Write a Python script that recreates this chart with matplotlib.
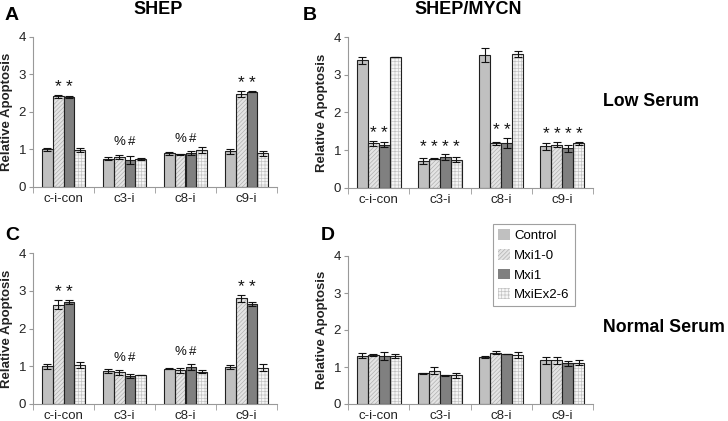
import matplotlib
matplotlib.use("Agg")
import matplotlib.pyplot as plt
import numpy as np
from matplotlib.patches import Patch

plt.rcParams['font.family'] = ['Liberation Sans', 'DejaVu Sans']
plt.rcParams['hatch.linewidth'] = 0.5

categories = ["c-i-con", "c3-i", "c8-i", "c9-i"]
series = ["Control", "Mxi1-0", "Mxi1", "MxiEx2-6"]

# values [category][series]
A_vals = [[1.00, 2.42, 2.40, 0.98], [0.75, 0.80, 0.72, 0.75], [0.90, 0.87, 0.90, 0.99], [0.95, 2.48, 2.54, 0.90]]
A_err = [[0.05, 0.04, 0.03, 0.05], [0.04, 0.06, 0.10, 0.03], [0.04, 0.02, 0.06, 0.08], [0.07, 0.08, 0.02, 0.07]]
A_marks = [["", "*", "*", ""], ["", "%", "#", ""], ["", "%", "#", ""], ["", "*", "*", ""]]

B_vals = [[3.38, 1.18, 1.15, 3.47], [0.72, 0.78, 0.82, 0.75], [3.52, 1.18, 1.20, 3.55], [1.10, 1.15, 1.05, 1.18]]
B_err = [[0.10, 0.07, 0.07, 0.01], [0.08, 0.01, 0.07, 0.06], [0.18, 0.05, 0.13, 0.07], [0.09, 0.07, 0.10, 0.03]]
B_marks = [["", "*", "*", ""], ["*", "*", "*", "*"], ["", "*", "*", ""], ["*", "*", "*", "*"]]

C_vals = [[1.00, 2.63, 2.70, 1.03], [0.87, 0.84, 0.74, 0.77], [0.94, 0.89, 0.98, 0.86], [0.98, 2.80, 2.65, 0.96]]
C_err = [[0.06, 0.12, 0.05, 0.07], [0.06, 0.06, 0.05, 0.01], [0.01, 0.07, 0.08, 0.04], [0.05, 0.10, 0.06, 0.09]]
C_marks = A_marks

D_vals = [[1.30, 1.32, 1.30, 1.30], [0.83, 0.90, 0.78, 0.78], [1.28, 1.39, 1.36, 1.32], [1.18, 1.18, 1.10, 1.12]]
D_err = [[0.07, 0.03, 0.10, 0.05], [0.02, 0.10, 0.01, 0.07], [0.03, 0.04, 0.00, 0.08], [0.09, 0.10, 0.06, 0.07]]
D_marks = [["", "", "", ""]] * 4

face = ["#c0c0c0", "#e4e4e4", "#808080", "#f6f6f6"]
hatches = [None, "////////", None, "+++++"]
hatch_col = [None, "#b0b0b0", None, "#c4c4c4"]

fig = plt.figure(figsize=(7.28, 4.21), dpi=100)

W = 728.0
H = 421.0
def rect(x0, x1, ytop, ybot):
    return [x0 / W, 1 - ybot / H, (x1 - x0) / W, (ybot - ytop) / H]

panels = [
    ("A", rect(33, 277, 37, 187), A_vals, A_err, A_marks),
    ("B", rect(348, 593, 37, 188), B_vals, B_err, B_marks),
    ("C", rect(33, 277, 253, 404), C_vals, C_err, C_marks),
    ("D", rect(348, 593, 256, 404), D_vals, D_err, D_marks),
]

bw = 0.18
for name, r, vals, errs, marks in panels:
    ax = fig.add_axes(r)
    x = np.arange(len(categories))
    for j in range(len(series)):
        xs = x + (j - 1.5) * bw
        h = [vals[i][j] for i in range(len(categories))]
        e = [errs[i][j] for i in range(len(categories))]
        if hatches[j]:
            ax.bar(xs, h, bw, color=face[j], edgecolor=hatch_col[j], hatch=hatches[j], linewidth=0, zorder=2)
            ax.bar(xs, h, bw, color="none", edgecolor="#202020", linewidth=0.8, zorder=3)
        else:
            ax.bar(xs, h, bw, color=face[j], edgecolor="#202020", linewidth=0.8, zorder=3)
        ax.errorbar(xs, h, yerr=e, fmt="none", ecolor="#111111", elinewidth=0.8, capsize=3, capthick=0.8, zorder=4)
    # significance marks at a common height within each group
    for i in range(len(categories)):
        idx = [j for j in range(len(series)) if marks[i][j]]
        if not idx:
            continue
        top = max(vals[i][j] + errs[i][j] for j in idx)
        for j in idx:
            m = marks[i][j]
            xpos = i + (j - 1.5) * bw
            if m == "*":
                ax.text(xpos, top + 0.02, m, ha="center", va="bottom", fontsize=12.5, color="#111111")
            else:
                ax.text(xpos + (0.03 if m == "#" else 0), top + 0.17, m, ha="center", va="bottom",
                        fontsize=9.5, color="#111111")
    ax.set_xlim(-0.5, 3.5)
    ax.set_ylim(0, 4)
    ax.set_yticks([0, 1, 2, 3, 4])
    ax.set_xticks(x)
    ax.set_xticklabels(categories)
    ax.set_xticks(np.arange(-0.5, 3.6, 1), minor=True)
    ax.tick_params(axis="x", which="major", length=0, labelsize=9.5, pad=4.5, colors="#222222")
    ax.tick_params(axis="x", which="minor", length=4, color="#999999", direction="out")
    ax.tick_params(axis="y", length=3, color="#999999", labelsize=9.5, labelcolor="#222222", pad=2)
    for s in ["top", "right"]:
        ax.spines[s].set_visible(False)
    for s in ["left", "bottom"]:
        ax.spines[s].set_color("#999999")
        ax.spines[s].set_linewidth(0.8)
    ax.set_ylabel("Relative Apoptosis", fontsize=9.5, fontweight="bold", labelpad=4, color="#222222")

# panel letters and titles
fig.text(12 / W, 1 - 15 / H, "A", fontsize=14, fontweight="bold", ha="center", va="center")
fig.text(310 / W, 1 - 15 / H, "B", fontsize=14, fontweight="bold", ha="center", va="center")
fig.text(12 / W, 1 - 236 / H, "C", fontsize=14, fontweight="bold", ha="center", va="center")
fig.text(328 / W, 1 - 236 / H, "D", fontsize=14, fontweight="bold", ha="center", va="center")
fig.text(158 / W, 1 - 10 / H, "SHEP", fontsize=13, fontweight="bold", ha="center", va="center")
fig.text(468 / W, 1 - 10 / H, "SHEP/MYCN", fontsize=13, fontweight="bold", ha="center", va="center")
fig.text(603 / W, 1 - 102 / H, "Low Serum", fontsize=12.8, fontweight="bold", ha="left", va="center")
fig.text(603 / W, 1 - 327 / H, "Normal Serum", fontsize=12.8, fontweight="bold", ha="left", va="center")

handles = []
for j in range(len(series)):
    if hatches[j]:
        handles.append(Patch(facecolor=face[j], edgecolor=hatch_col[j], hatch=hatches[j], linewidth=0))
    else:
        handles.append(Patch(facecolor=face[j], edgecolor=face[j], linewidth=0))
leg = fig.legend(handles, series, loc="upper left", bbox_to_anchor=(493 / W, 1 - 224 / H),
                 borderaxespad=0, fontsize=9.5, frameon=True, fancybox=False, handlelength=0.9,
                 handleheight=0.9, handletextpad=0.3, labelspacing=0.5, borderpad=0.4)
leg.get_frame().set_edgecolor("#888888")
leg.get_frame().set_linewidth(0.8)

fig.savefig("out.png", dpi=100, facecolor="white")
